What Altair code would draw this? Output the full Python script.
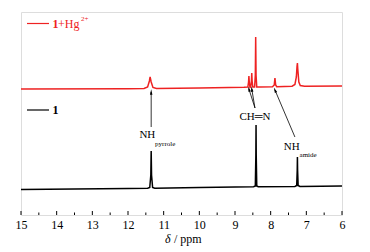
import altair as alt
import pandas as pd

# --- spectrum of 1 (black), chemical shift (ppm) and intensity
black_ppm = [15.0, 12.0, 11.45, 11.39, 11.36, 11.35, 11.34, 11.31, 11.25, 10.0,
             8.48, 8.43, 8.415, 8.41, 8.405, 8.39, 8.35, 7.32, 7.27, 7.255, 7.25,
             7.245, 7.23, 7.18, 6.0]
black_int = [25.5, 26.5, 26.8, 27.5, 40, 64, 40, 27.5, 26.8, 27.5,
             28.3, 29, 60, 90, 60, 29, 28.3, 28.6, 29.5, 45, 58,
             45, 29.5, 28.6, 29]

# --- spectrum of 1 + Hg2+ (red)
red_ppm = [15.0, 12.0, 11.55, 11.45, 11.40, 11.38, 11.35, 11.30, 11.2, 10.0,
           8.75, 8.64, 8.62, 8.61, 8.60, 8.58, 8.56, 8.54, 8.53, 8.52, 8.50,
           8.45, 8.43, 8.42, 8.41, 8.39, 8.3, 7.95, 7.90, 7.88, 7.86, 7.83,
           7.40, 7.32, 7.28, 7.26, 7.25, 7.24, 7.21, 7.17, 7.05, 6.0]
red_int = [126, 126.3, 126.5, 128, 134, 138, 133, 127.5, 126.5, 127,
           127.8, 128, 133, 139, 133, 127.5, 128, 134, 142, 134, 128,
           128, 140, 178, 140, 128, 128, 128.3, 130, 137, 130, 128.3,
           128.8, 130.5, 138, 149, 152, 146, 133, 129.5, 128.8, 129]

major_ticks = [15, 14, 13, 12, 11, 10, 9, 8, 7, 6]
minor_ticks = [14.5, 13.5, 12.5, 11.5, 10.5, 9.5, 8.5, 7.5, 6.5]

W, H = 321, 203
FONT = "Times New Roman, Liberation Serif, DejaVu Serif, serif"
RED = "#ee2222"

xs = alt.Scale(domain=[15, 6], nice=False, zero=False)
ys = alt.Scale(domain=[0, 203], nice=False, zero=False)

x_axis = alt.Axis(values=major_ticks, ticks=False, domain=False, grid=False,
                  labelFont=FONT, labelFontSize=12, labelColor="black",
                  labelPadding=4, labelOverlap=False, labelFlush=False,
                  title=None, format="d")


def X(field):
    return alt.X(field, scale=xs, axis=x_axis)


def Y(field):
    return alt.Y(field, scale=ys, axis=None)


black_df = pd.DataFrame({"ppm": black_ppm, "I": black_int})
red_df = pd.DataFrame({"ppm": red_ppm, "I": red_int})

black_line = alt.Chart(black_df).mark_line(color="black", strokeWidth=1.5).encode(
    x=X("ppm:Q"), y=Y("I:Q"), order=alt.Order("ppm:Q", sort="descending"))
red_line = alt.Chart(red_df).mark_line(color=RED, strokeWidth=1.5).encode(
    x=X("ppm:Q"), y=Y("I:Q"), order=alt.Order("ppm:Q", sort="descending"))

major = alt.Chart(pd.DataFrame({"t": major_ticks})).mark_rule(color="black", strokeWidth=1).encode(
    x=X("t:Q"), y=alt.value(H), y2=alt.value(H - 4))
minor = alt.Chart(pd.DataFrame({"t": minor_ticks})).mark_rule(color="black", strokeWidth=1).encode(
    x=X("t:Q"), y=alt.value(H), y2=alt.value(H - 2.5))

# arrows
arrows = pd.DataFrame({
    "x": [11.35, 8.44, 8.44, 7.32],
    "y": [88, 107, 107, 78],
    "x2": [11.35, 8.61, 8.53, 7.88],
    "y2": [123, 126, 126, 125],
    "ang": [0, 343, 350, 337],
})
arrow_lines = alt.Chart(arrows).mark_rule(color="black", strokeWidth=0.8).encode(
    x=X("x:Q"), y=Y("y:Q"), x2="x2:Q", y2="y2:Q")
arrow_heads = alt.Chart(arrows).mark_point(
    shape="M0,-1L0.45,1L-0.45,1Z", filled=True, color="black", size=30, opacity=1).encode(
    x=X("x2:Q"), y=Y("y2:Q"), angle=alt.Angle("ang:Q", scale=None))


def label(txt, x, y, size=11, align="left", weight="normal", color="black", style="normal"):
    return alt.Chart(pd.DataFrame({"x": [x], "y": [y], "t": [txt]})).mark_text(
        font=FONT, fontSize=size, align=align, baseline="middle",
        fontWeight=weight, color=color, fontStyle=style).encode(
        x=X("x:Q"), y=Y("y:Q"), text="t:N")


def plabel(txt, x, y, size=12, align="left", weight="normal", color="black", style="normal"):
    return alt.Chart(pd.DataFrame({"t": [txt]})).mark_text(
        font=FONT, fontSize=size, align=align, baseline="middle",
        fontWeight=weight, color=color, fontStyle=style).encode(
        x=alt.value(x), y=alt.value(y), text="t:N")


anns = [
    label("NH", 11.68, 80),
    label("pyrrole", 11.24, 71, size=7),
    label("CH\u2550N", 8.44, 98, align="center"),
    label("NH", 7.63, 68),
    label("amide", 7.19, 60, size=7),
    plabel("\u03b4", 144, 227, style="italic"),
    plabel("/ ppm", 153, 227),
]

legend = [
    alt.Chart(pd.DataFrame({"a": [0]})).mark_rule(color=RED, strokeWidth=1.2).encode(
        x=alt.value(6), x2=alt.value(28), y=alt.value(11.5)),
    plabel("1", 31.5, 11.5, weight="bold", color=RED),
    plabel("+Hg", 37, 11.5, color=RED),
    plabel("2+", 60, 7, size=7, color=RED),
    alt.Chart(pd.DataFrame({"a": [0]})).mark_rule(color="black", strokeWidth=1.2).encode(
        x=alt.value(6), x2=alt.value(28), y=alt.value(98)),
    plabel("1", 31.5, 98, weight="bold"),
]

chart = alt.layer(black_line, red_line, major, minor, arrow_lines, arrow_heads,
                  *anns, *legend).properties(
    width=W, height=H,
    autosize=alt.AutoSizeParams(type="none"),
    padding={"left": 13, "top": 4, "right": 20, "bottom": 40},
).configure_view(stroke="black", strokeWidth=1.5).configure(background="white")

chart.save("out.html", embed_options={"renderer": "svg", "actions": False})
